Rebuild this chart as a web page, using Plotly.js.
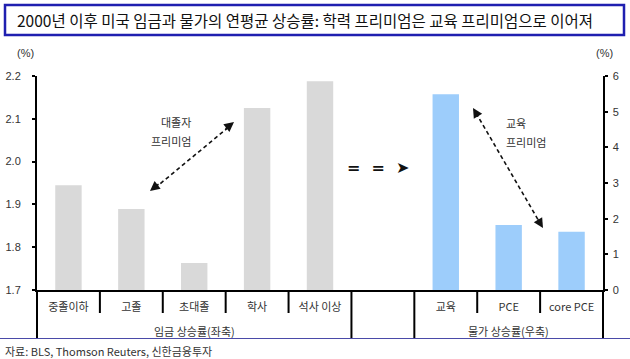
<!DOCTYPE html>
<html>
<head>
<meta charset="utf-8">
<script src="https://cdn.plot.ly/plotly-3.0.1.min.js"></script>
<style>
  html, body { margin: 0; padding: 0; background: #fff; }
  #chart { width: 630px; height: 359px; }
</style>
</head>
<body>
<div id="chart"></div>
<script>
// ---- data ----
const wageCats = ['중졸이하', '고졸', '초대졸', '학사', '석사 이상'];
const wageVals = [1.945, 1.889, 1.763, 2.125, 2.188];
const gapCat = ' ';
const priceCats = ['교육', 'PCE', 'core PCE'];
const priceVals = [5.49, 1.82, 1.63];
const groupLabels = ['임금 상승률(좌축)', '물가 상승률(우축)'];
const leftTicks = [1.7, 1.8, 1.9, 2.0, 2.1, 2.2];
const rightTicks = [0, 1, 2, 3, 4, 5, 6];
const titleText = '2000년 이후 미국 임금과 물가의 연평균 상승률: 학력 프리미엄은 교육 프리미엄으로 이어져';
const sourceText = '자료: BLS, Thomson Reuters, 신한금융투자';
const noteCollege = ['대졸자', '프리미엄'];
const noteEdu = ['교육', '프리미엄'];

const allCats = wageCats.concat([gapCat], priceCats);
const nCat = allCats.length;

// pixel helpers for layout placement (plot area 37..603 x, 76..290 y)
const L = 37, R = 603, T = 76, B = 290;
const px = v => (v - L) / (R - L);
const py = v => (B - v) / (B - T);

const KR = '"Noto Sans CJK KR", "Liberation Sans", sans-serif';
const NUM = '"Liberation Sans", Arial, sans-serif';

const traces = [
  {
    type: 'bar', x: wageCats, y: wageVals, yaxis: 'y', width: 0.42,
    marker: { color: '#d9d9d9' }, hoverinfo: 'x+y', showlegend: false
  },
  {
    type: 'bar', x: [gapCat], y: [null], yaxis: 'y', width: 0.42,
    marker: { color: 'rgba(0,0,0,0)' }, hoverinfo: 'skip', showlegend: false
  },
  {
    type: 'bar', x: priceCats, y: priceVals, yaxis: 'y2', width: 0.42,
    marker: { color: '#9dcdfb' }, hoverinfo: 'x+y', showlegend: false
  }
];

const shapes = [];
// category separators below axis
for (let i = 0; i <= nCat; i++) {
  const xp = i / nCat;
  const isGroupEdge = (i === 0 || i === wageCats.length || i === wageCats.length + 1 || i === nCat);
  shapes.push({
    type: 'line', xref: 'paper', yref: 'paper',
    x0: xp, x1: xp, y0: 0, y1: isGroupEdge ? py(338) : py(313),
    line: { color: '#000', width: 2 }
  });
}
// blue bottom rule
shapes.push({
  type: 'line', xref: 'paper', yref: 'paper',
  x0: px(0), x1: px(630), y0: py(338.5), y1: py(338.5),
  line: { color: '#4a4aa8', width: 1 }
});
// title box
shapes.push({
  type: 'rect', xref: 'paper', yref: 'paper',
  x0: px(5), x1: px(624), y0: py(35), y1: py(5),
  line: { color: '#1f1fb0', width: 2.5 }, fillcolor: 'rgba(0,0,0,0)'
});
// dashed arrow lines
shapes.push({
  type: 'line', xref: 'paper', yref: 'paper',
  x0: px(155), y0: py(188), x1: px(230), y1: py(126),
  line: { color: '#111', width: 1.6, dash: '4px,3px' }
});
shapes.push({
  type: 'line', xref: 'paper', yref: 'paper',
  x0: px(476), y0: py(113), x1: px(540), y1: py(223),
  line: { color: '#111', width: 1.6, dash: '4px,3px' }
});

function arrowHead(xTip, yTip, xFrom, yFrom) {
  return {
    xref: 'paper', yref: 'paper', x: px(xTip), y: py(yTip),
    ax: xFrom - xTip, ay: yFrom - yTip, axref: 'pixel', ayref: 'pixel',
    text: '', showarrow: true, arrowhead: 2, arrowsize: 1.3, arrowwidth: 1.5,
    arrowcolor: '#111'
  };
}

function note(text, xPix, yPix, anchor) {
  return {
    xref: 'paper', yref: 'paper', x: px(xPix), y: py(yPix), xanchor: anchor, yanchor: 'middle',
    text: text, showarrow: false, font: { family: KR, size: 11, color: '#333' }
  };
}

const annotations = [
  { xref: 'paper', yref: 'paper', x: px(15), y: py(20), xanchor: 'left', yanchor: 'middle',
    text: titleText, showarrow: false, font: { family: KR, size: 15.5, color: '#111' } },
  { xref: 'paper', yref: 'paper', x: px(25), y: py(53), xanchor: 'center', yanchor: 'middle',
    text: '(%)', showarrow: false, font: { family: NUM, size: 11, color: '#333' } },
  { xref: 'paper', yref: 'paper', x: px(604), y: py(53), xanchor: 'center', yanchor: 'middle',
    text: '(%)', showarrow: false, font: { family: NUM, size: 11, color: '#333' } },
  { xref: 'x', yref: 'paper', x: 2, y: py(331), xanchor: 'center', yanchor: 'middle',
    text: groupLabels[0], showarrow: false, font: { family: KR, size: 11, color: '#333' } },
  { xref: 'x', yref: 'paper', x: 7, y: py(331), xanchor: 'center', yanchor: 'middle',
    text: groupLabels[1], showarrow: false, font: { family: KR, size: 11, color: '#333' } },
  { xref: 'paper', yref: 'paper', x: px(3), y: py(351), xanchor: 'left', yanchor: 'middle',
    text: sourceText, showarrow: false, font: { family: KR, size: 11, color: '#333' } },
  note(noteCollege[0], 193, 122, 'right'),
  note(noteCollege[1], 193, 141, 'right'),
  note(noteEdu[0], 504, 123, 'left'),
  note(noteEdu[1], 504, 142, 'left'),
  { xref: 'paper', yref: 'paper', x: px(378), y: py(167), xanchor: 'center', yanchor: 'middle',
    text: '<b>=  =  ➤</b>', showarrow: false, font: { family: '"DejaVu Sans", sans-serif', size: 16, color: '#111' } },
  arrowHead(150, 191, 160, 183),
  arrowHead(234, 122, 224, 130),
  arrowHead(473, 108, 479, 118),
  arrowHead(543, 228, 537, 218)
];

const layout = {
  width: 630, height: 359,
  margin: { l: L, r: 630 - R, t: T, b: 359 - B, pad: 0 },
  paper_bgcolor: '#fff', plot_bgcolor: '#fff',
  barmode: 'overlay',
  showlegend: false,
  xaxis: {
    type: 'category', categoryorder: 'array', categoryarray: allCats,
    range: [-0.5, nCat - 0.5], fixedrange: true,
    showline: true, linecolor: '#000', linewidth: 2,
    ticks: '', showgrid: false, zeroline: false,
    tickfont: { family: KR, size: 11, color: '#333' },
    ticklabelstandoff: 6
  },
  yaxis: {
    range: [leftTicks[0], leftTicks[leftTicks.length - 1]],
    tickvals: leftTicks, tickformat: '.1f',
    showline: true, linecolor: '#000', linewidth: 2,
    ticks: 'outside', ticklen: 3, tickwidth: 2, tickcolor: '#000',
    showgrid: false, zeroline: false,
    tickfont: { family: NUM, size: 11, color: '#333' },
    ticklabelstandoff: 9
  },
  yaxis2: {
    overlaying: 'y', side: 'right',
    range: [rightTicks[0], rightTicks[rightTicks.length - 1]],
    tickvals: rightTicks,
    showline: true, linecolor: '#000', linewidth: 1.5,
    ticks: 'outside', ticklen: 3, tickwidth: 2, tickcolor: '#000',
    showgrid: false, zeroline: false,
    tickfont: { family: NUM, size: 11, color: '#333' },
    ticklabelstandoff: 3
  },
  shapes: shapes,
  annotations: annotations
};

Plotly.newPlot('chart', traces, layout, { displayModeBar: false, staticPlot: true });
</script>
</body>
</html>
